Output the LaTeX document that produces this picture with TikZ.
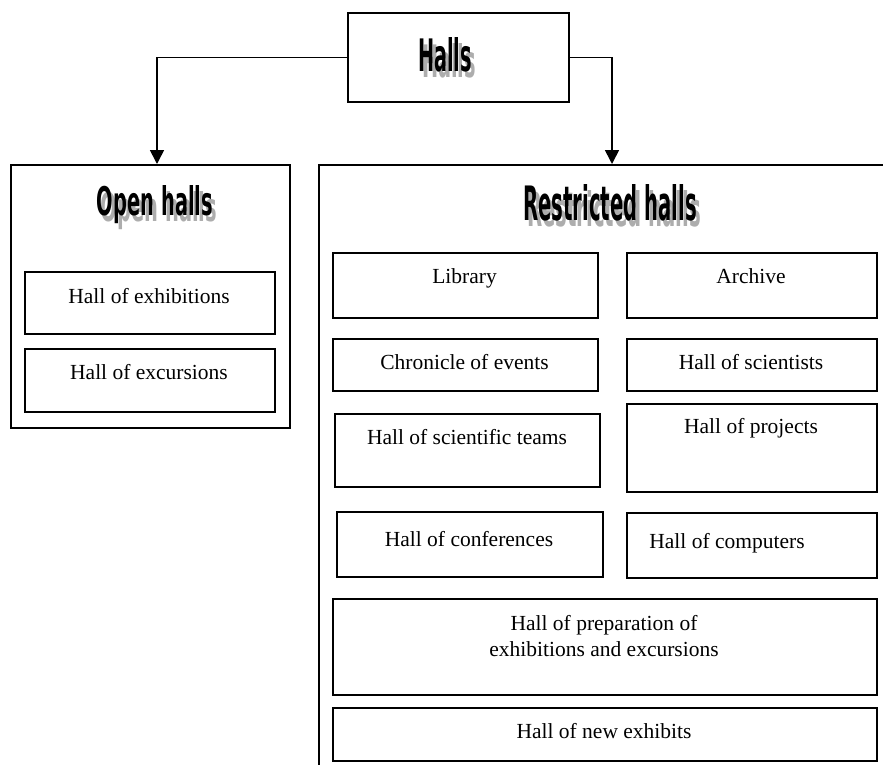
\documentclass[tikz,border=0pt]{standalone}
\usepackage{fontspec}
\setmainfont{Liberation Serif}
\newfontfamily\imp{DejaVu Sans}
\usetikzlibrary{arrows.meta}
\tikzset{
  box/.style={draw, line width=1.6pt, inner sep=0pt, anchor=north west},
  lbl/.style={anchor=base, inner sep=0pt, font=\fontsize{21.5}{26}\selectfont},
  conn/.style={line width=1.6pt},
  tip/.style={-{Triangle[width=14pt,length=14pt]}},
  ttl/.style={anchor=base, inner sep=0pt}
}
\newcommand{\mytitle}[3]{%
  \makebox[0pt][l]{\hspace*{4pt}\raisebox{-6pt}{\color{black!32}\resizebox{#1pt}{#2pt}{\imp\bfseries #3}}}%
  \resizebox{#1pt}{#2pt}{\imp\bfseries #3}}
\begin{document}
\begin{tikzpicture}[x=1pt,y=-1pt]
\useasboundingbox (0,0) rectangle (883,764);
\clip (0,0) rectangle (883,764);
% main boxes
\node[box, minimum width=221pt, minimum height=89pt] (halls) at (347,12) {};
\node[box, minimum width=279pt, minimum height=263pt] (open) at (10,164) {};
\node[box, minimum width=620pt, minimum height=700pt] (restr) at (318,164) {};
% titles
\node[ttl] (hallsT) at (445,71) {\mytitle{54}{34}{Halls}};
\node[ttl] (openT) at (155,215) {\mytitle{116}{30}{Open halls}};
\node[ttl] (restrT) at (610,220) {\mytitle{174}{36}{Restricted halls}};
% connectors
\coordinate (lt) at (157,164);
\coordinate (rt) at (612,164);
\draw[conn,tip] (halls.west) -| (lt);
\draw[conn,tip] (halls.east) -| (rt);
% open halls content
\node[box, minimum width=250pt, minimum height=62pt] (exh) at (24,271) {};
\node[lbl] (exhT) at (149,303) {Hall of exhibitions};
\node[box, minimum width=250pt, minimum height=63pt] (exc) at (24,348) {};
\node[lbl] (excT) at (149,379) {Hall of excursions};
% restricted halls content
\node[box, minimum width=265pt, minimum height=65pt] (lib) at (332,252) {};
\node[lbl] (libT) at (464.5,283) {Library};
\node[box, minimum width=250pt, minimum height=65pt] (arch) at (626,252) {};
\node[lbl] (archT) at (751,283) {Archive};
\node[box, minimum width=265pt, minimum height=52pt] (chr) at (332,338) {};
\node[lbl] (chrT) at (464.5,369) {Chronicle of events};
\node[box, minimum width=250pt, minimum height=52pt] (sci) at (626,338) {};
\node[lbl] (sciT) at (751,369) {Hall of scientists};
\node[box, minimum width=265pt, minimum height=73pt] (team) at (334,413) {};
\node[lbl] (teamT) at (467,444) {Hall of scientific teams};
\node[box, minimum width=250pt, minimum height=88pt] (proj) at (626,403) {};
\node[lbl] (projT) at (751,433) {Hall of projects};
\node[box, minimum width=266pt, minimum height=65pt] (conf) at (336,511) {};
\node[lbl] (confT) at (469,546) {Hall of conferences};
\node[box, minimum width=250pt, minimum height=65pt] (comp) at (626,512) {};
\node[lbl] (compT) at (727,548) {Hall of computers};
\node[box, minimum width=544pt, minimum height=96pt] (prep) at (332,598) {};
\node[lbl] (prepT1) at (604,630) {Hall of preparation of};
\node[lbl] (prepT2) at (604,656) {exhibitions and excursions};
\node[box, minimum width=544pt, minimum height=53pt] (newx) at (332,707) {};
\node[lbl] (newxT) at (604,738) {Hall of new exhibits};
\end{tikzpicture}
\end{document}
